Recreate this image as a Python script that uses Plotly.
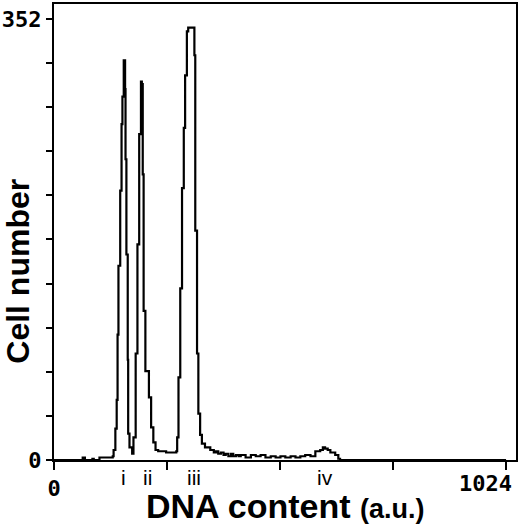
import plotly.graph_objects as go

# DNA histogram (channel, cell count)
channel = [0, 63, 65, 70, 85, 87, 90, 103, 133, 135, 139, 142, 144, 146, 150, 153, 155, 158,
           161, 162, 164, 167, 168, 171, 177, 180, 185, 189, 193, 197, 199, 201, 203, 207,
           215, 220, 225, 230, 236, 254, 277, 279, 282, 286, 290, 294, 297, 301, 304, 315,
           318, 320, 324, 327, 331, 335, 342, 354, 362, 367, 372, 378, 384, 389, 395, 401,
           406, 412, 418, 423, 434, 446, 457, 468, 479, 491, 502, 513, 524, 536, 547, 558,
           569, 581, 592, 603, 609, 614, 620, 626, 637, 644, 648, 1024]
count = [0, 0, 2, 0, 0, 1, 0, 2, 3, 8, 25, 48, 100, 155, 215, 268, 290, 319,
         296, 240, 164, 80, 21, 10, 5, 18, 85, 172, 260, 302, 300, 228, 119, 71,
         50, 26, 14, 8, 7, 6, 7, 18, 66, 137, 217, 265, 307, 342, 345, 345,
         323, 183, 85, 37, 20, 13, 10, 8, 6, 7, 5, 6, 4, 5, 3, 5,
         3, 4, 3, 4, 2, 4, 3, 4, 2, 3, 2, 3, 2, 3, 2, 3,
         4, 3, 7, 8, 10, 9, 8, 6, 4, 1, 0, 0]

xtick_vals = [0, 256, 512, 768, 1024]
xtick_text = ["0", "", "", "", ""]
ytick_vals = [0, 35.2, 70.4, 105.6, 140.8, 176, 211.2, 246.4, 281.6, 316.8, 352]
ytick_text = ["0", "", "", "", "", "", "", "", "", "", "352"]

peak_names = ["i", "ii", "iii", "iv"]
peak_pos = [157, 211, 317, 614]

fig = go.Figure()
fig.add_trace(go.Scatter(x=channel, y=count, mode="lines", line_shape="hv",
                         line=dict(color="black", width=2.2), showlegend=False))

tickfont = dict(family="DejaVu Sans Mono", size=22, color="black", weight="bold")
fig.update_xaxes(range=[0, 1046.5], tickvals=xtick_vals, ticktext=xtick_text,
                 ticks="outside", ticklen=8, tickwidth=2, tickcolor="black",
                 showline=True, linecolor="black", linewidth=2, mirror=True,
                 showgrid=False, zeroline=False, tickfont=tickfont)
fig.update_yaxes(range=[0, 363.9], tickvals=ytick_vals, ticktext=ytick_text,
                 ticks="outside", ticklen=6, tickwidth=2, tickcolor="black",
                 showline=True, linecolor="black", linewidth=2, mirror=True,
                 showgrid=False, zeroline=False, tickfont=tickfont)

# right-end label of the x axis (kept inside the page)
fig.add_annotation(x=1024, y=0, xref="x", yref="y", text="1024", showarrow=False,
                   xanchor="right", yanchor="top", xshift=8, yshift=-9, font=tickfont)

for name, pos in zip(peak_names, peak_pos):
    fig.add_annotation(x=pos, y=-0.039, xref="x", yref="paper", text=name,
                       showarrow=False, yanchor="middle",
                       font=dict(family="Liberation Sans", size=21, color="black"))

fig.add_annotation(x=0.5, y=-0.100, xref="paper", yref="paper",
                   text="<b>DNA content <span style='font-size:27px'>(a.u.)</span></b>",
                   showarrow=False, xanchor="center", yanchor="middle",
                   font=dict(family="Liberation Sans", size=34, color="black"))
fig.add_annotation(x=-0.078, y=0.415, xref="paper", yref="paper", textangle=-90,
                   text="<b>Cell number</b>", showarrow=False,
                   xanchor="center", yanchor="middle",
                   font=dict(family="Liberation Sans", size=32, color="black"))

fig.update_layout(width=520, height=526, margin=dict(l=52, r=3, t=2, b=66),
                  plot_bgcolor="white", paper_bgcolor="white")

fig.write_html("out.html", config={"displayModeBar": False},
               post_script="document.body.style.margin='0px';")
